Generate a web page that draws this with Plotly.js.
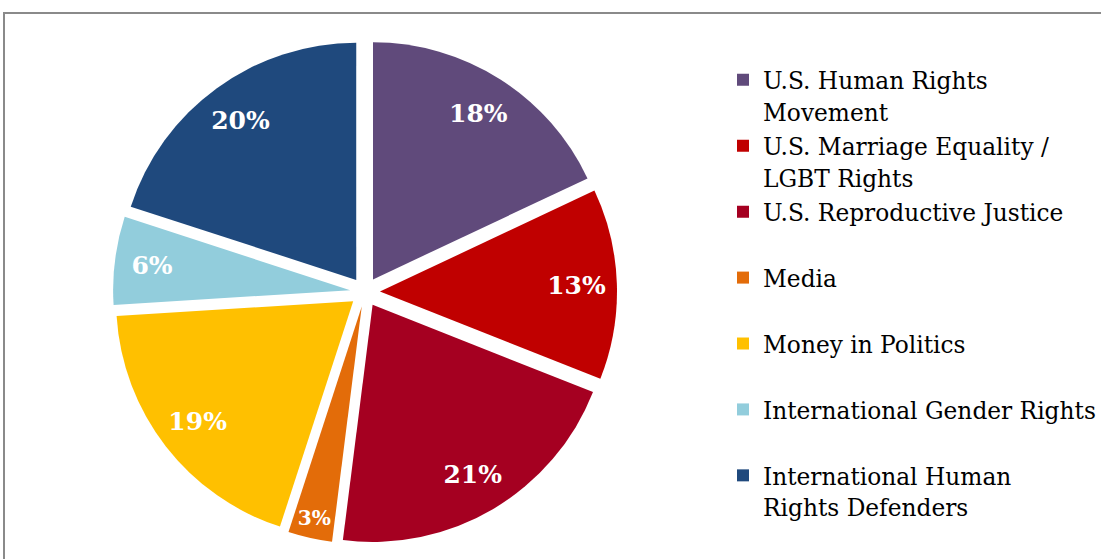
<!DOCTYPE html>
<html><head><meta charset="utf-8">
<script src="https://cdn.plot.ly/plotly-3.0.1.min.js"></script>
<style>html,body{margin:0;padding:0;background:#fff}#chart{width:1101px;height:559px}</style>
</head><body>
<div id="chart"></div>
<script>
// Data
const categories = [
  "U.S. Human Rights<br>Movement",
  "U.S. Marriage Equality /<br>LGBT Rights",
  "U.S. Reproductive Justice",
  "Media",
  "Money in Politics",
  "International Gender Rights",
  "International Human<br>Rights Defenders"
];
const shares = [18, 13, 21, 3, 19, 6, 20];
const sliceColors = ["#604A7B", "#C00000", "#A50021", "#E36C09", "#FFC000", "#92CDDC", "#1F497D"];

// Legend labels: every entry two lines tall so entries are evenly spaced
const legendLabels = categories.map(c => {
  const t = c.indexOf('<br>') >= 0 ? c : c + '<br>&nbsp;';
  return '<span style="font-size:23.3px">' + t + '</span>';
});

const pieDomain = {x: [113/1101, 617/1101], y: [15/559, 519/559]};
const pulls = shares.map(() => 0.063);

// Filled slices (carry the legend)
const slices = {
  type: 'pie',
  labels: legendLabels,
  values: shares,
  sort: false,
  direction: 'clockwise',
  rotation: 0,
  pull: pulls,
  marker: {colors: sliceColors, line: {width: 0}},
  textinfo: 'none',
  hoverinfo: 'label+percent',
  domain: pieDomain
};

// Transparent ring overlay: places the percentage labels near the outer edge
const labelRing = {
  type: 'pie',
  labels: legendLabels,
  values: shares,
  sort: false,
  direction: 'clockwise',
  rotation: 0,
  pull: pulls,
  hole: 0.66,
  showlegend: false,
  marker: {colors: shares.map(() => 'rgba(0,0,0,0)'), line: {width: 0}},
  textinfo: 'percent',
  textposition: 'inside',
  insidetextorientation: 'horizontal',
  textfont: {family: 'DejaVu Serif', size: 25, color: '#ffffff', weight: 'bold'},
  hoverinfo: 'skip',
  domain: pieDomain
};

const layout = {
  width: 1101, height: 559,
  margin: {l: 0, r: 0, t: 0, b: 0, autoexpand: false},
  paper_bgcolor: '#ffffff',
  plot_bgcolor: '#ffffff',
  font: {family: 'DejaVu Serif', color: '#000000'},
  showlegend: true,
  legend: {
    x: 723/1101, xanchor: 'left',
    y: 1 - 57.6/559, yanchor: 'top',
    valign: 'top',
    font: {family: 'DejaVu Serif', size: 24.2, color: '#000000'},
    bgcolor: 'rgba(0,0,0,0)',
    borderwidth: 0,
    traceorder: 'normal'
  },
  shapes: [{
    type: 'rect', xref: 'paper', yref: 'paper',
    x0: 4/1101, x1: 1.2, y0: -0.2, y1: 1 - 13/559,
    line: {color: '#8a8a8a', width: 2}, fillcolor: 'rgba(0,0,0,0)', layer: 'below'
  }]
};

Plotly.newPlot('chart', [slices, labelRing], layout, {displayModeBar: false, staticPlot: true});
</script>
</body></html>
